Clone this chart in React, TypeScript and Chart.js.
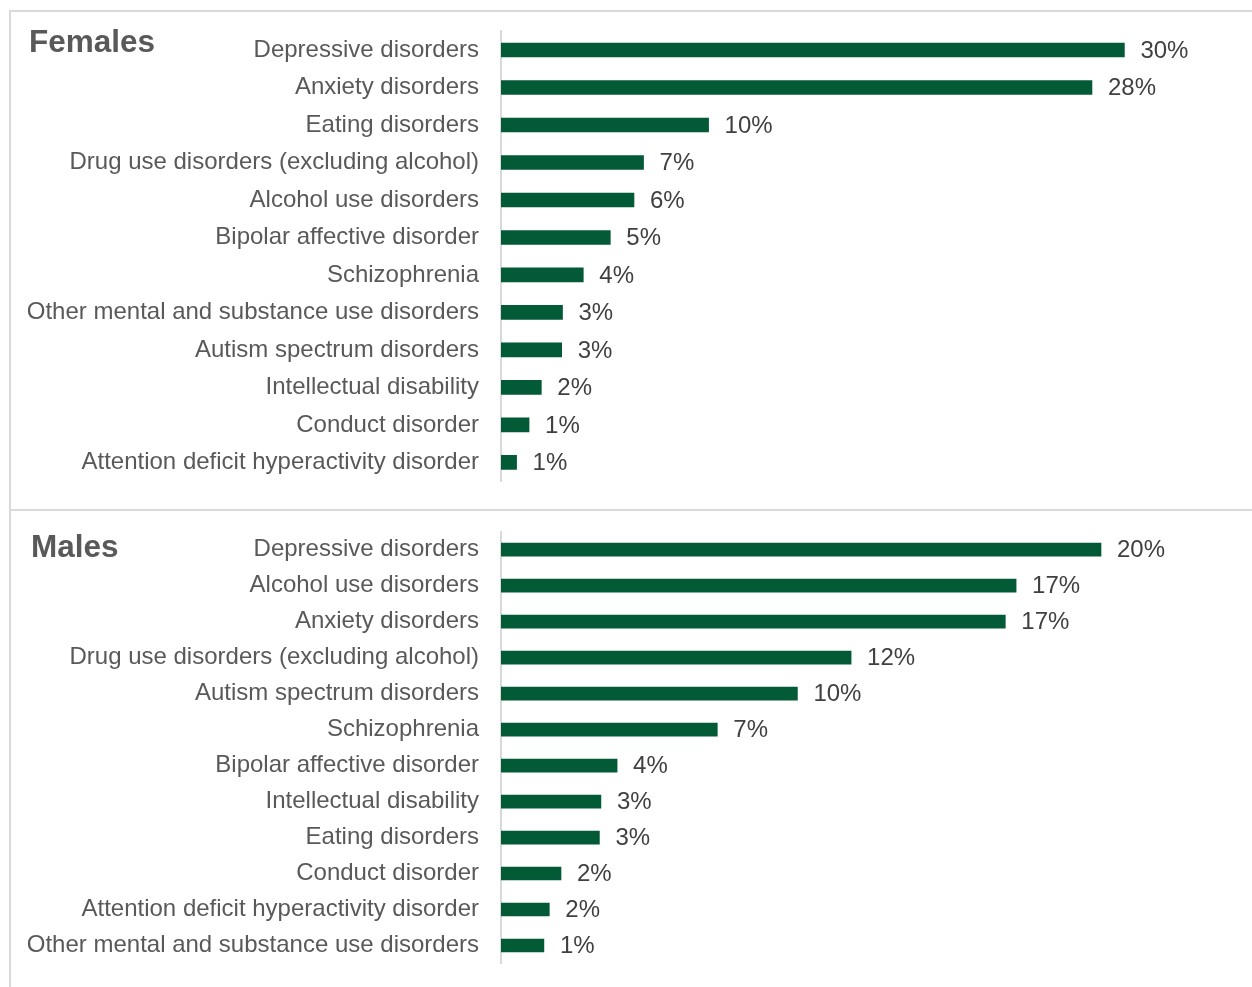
import React, { useEffect, useRef } from "react";
import { Chart, registerables } from "chart.js";

Chart.register(...registerables);

// ---- Data ----
const femaleCategories = [
  "Depressive disorders",
  "Anxiety disorders",
  "Eating disorders",
  "Drug use disorders (excluding alcohol)",
  "Alcohol use disorders",
  "Bipolar affective disorder",
  "Schizophrenia",
  "Other mental and substance use disorders",
  "Autism spectrum disorders",
  "Intellectual disability",
  "Conduct disorder",
  "Attention deficit hyperactivity disorder",
];
const femaleValues = [30.0, 28.44, 9.99, 6.86, 6.4, 5.26, 3.96, 2.96, 2.92, 1.94, 1.35, 0.75];

const maleCategories = [
  "Depressive disorders",
  "Alcohol use disorders",
  "Anxiety disorders",
  "Drug use disorders (excluding alcohol)",
  "Autism spectrum disorders",
  "Schizophrenia",
  "Bipolar affective disorder",
  "Intellectual disability",
  "Eating disorders",
  "Conduct disorder",
  "Attention deficit hyperactivity disorder",
  "Other mental and substance use disorders",
];
const maleValues = [20.0, 17.17, 16.81, 11.67, 9.88, 7.21, 3.87, 3.33, 3.28, 2.0, 1.61, 1.43];

const panelTitles = ["Females", "Males"];

// ---- Styles ----
const BAR_COLOR = "#035a37";
const FONT = "'Liberation Sans', Arial, Helvetica, sans-serif";
const BORDER = "#d9d9d9";

const valueLabelPlugin = {
  id: "valueLabels",
  afterDatasetsDraw(chart: any) {
    const ctx = chart.ctx;
    const meta = chart.getDatasetMeta(0);
    const data = chart.data.datasets[0].data as number[];
    ctx.save();
    ctx.font = `24px ${FONT}`;
    ctx.fillStyle = "#404040";
    ctx.textAlign = "left";
    ctx.textBaseline = "middle";
    meta.data.forEach((bar: any, i: number) => {
      ctx.fillText(Math.round(data[i]) + "%", bar.x + 16, bar.y + 1);
    });
    ctx.restore();
  },
};

type PanelProps = {
  categories: string[];
  values: number[];
  max: number;
  top: number;
  height: number;
  padTop: number;
  padBottom: number;
  padRight: number;
  barThickness: number;
};

function Panel(p: PanelProps) {
  const ref = useRef<HTMLCanvasElement>(null);
  useEffect(() => {
    const chart = new Chart(ref.current as HTMLCanvasElement, {
      type: "bar",
      data: {
        labels: p.categories,
        datasets: [
          {
            data: p.values,
            backgroundColor: BAR_COLOR,
            borderWidth: 0,
            barThickness: p.barThickness,
          },
        ],
      },
      options: {
        indexAxis: "y",
        animation: false,
        responsive: false,
        maintainAspectRatio: false,
        layout: { padding: { top: p.padTop, bottom: p.padBottom, right: p.padRight, left: 0 } },
        plugins: {
          legend: { display: false },
          tooltip: { enabled: false },
          title: { display: false },
        },
        scales: {
          x: { display: false, min: 0, max: p.max },
          y: {
            grid: { display: false, drawTicks: false },
            border: { display: true, color: BORDER, width: 2 },
            ticks: {
              color: "#595959",
              font: { family: FONT, size: 24 },
              padding: 22,
              autoSkip: false,
            },
            afterFit: (scale: any) => {
              scale.width = 501;
              scale.paddingTop = 0;
              scale.paddingBottom = 0;
            },
          },
        },
      } as any,
      plugins: [valueLabelPlugin],
    });
    return () => chart.destroy();
  }, []);
  return (
    <canvas
      ref={ref}
      width={1252}
      height={p.height}
      style={{ position: "absolute", left: 0, top: p.top, width: 1252, height: p.height }}
    />
  );
}

export default function App() {
  const titleStyle: React.CSSProperties = {
    position: "absolute",
    fontFamily: FONT,
    fontWeight: "bold",
    fontSize: "31.5px",
    lineHeight: "31.5px",
    color: "#595959",
    whiteSpace: "nowrap",
  };
  return (
    <div
      style={{
        position: "absolute",
        left: 0,
        top: 0,
        width: 1252,
        height: 987,
        overflow: "hidden",
        background: "#ffffff",
      }}
    >
      {/* panel borders */}
      <div style={{ position: "absolute", left: 9, top: 10, width: 1243, height: 2, background: BORDER }} />
      <div style={{ position: "absolute", left: 9, top: 509, width: 1243, height: 2, background: BORDER }} />
      <div style={{ position: "absolute", left: 9, top: 10, width: 2, height: 977, background: BORDER }} />

      <Panel
        categories={femaleCategories}
        values={femaleValues}
        max={34}
        top={12}
        height={496}
        padTop={19.3}
        padBottom={26.9}
        padRight={44.5}
        barThickness={14}
      />
      <Panel
        categories={maleCategories}
        values={maleValues}
        max={24}
        top={512}
        height={475}
        padTop={19.7}
        padBottom={23.5}
        padRight={31}
        barThickness={13}
      />

      <div style={{ ...titleStyle, left: 29, top: 26 }}>{panelTitles[0]}</div>
      <div style={{ ...titleStyle, left: 31, top: 531 }}>{panelTitles[1]}</div>
    </div>
  );
}
